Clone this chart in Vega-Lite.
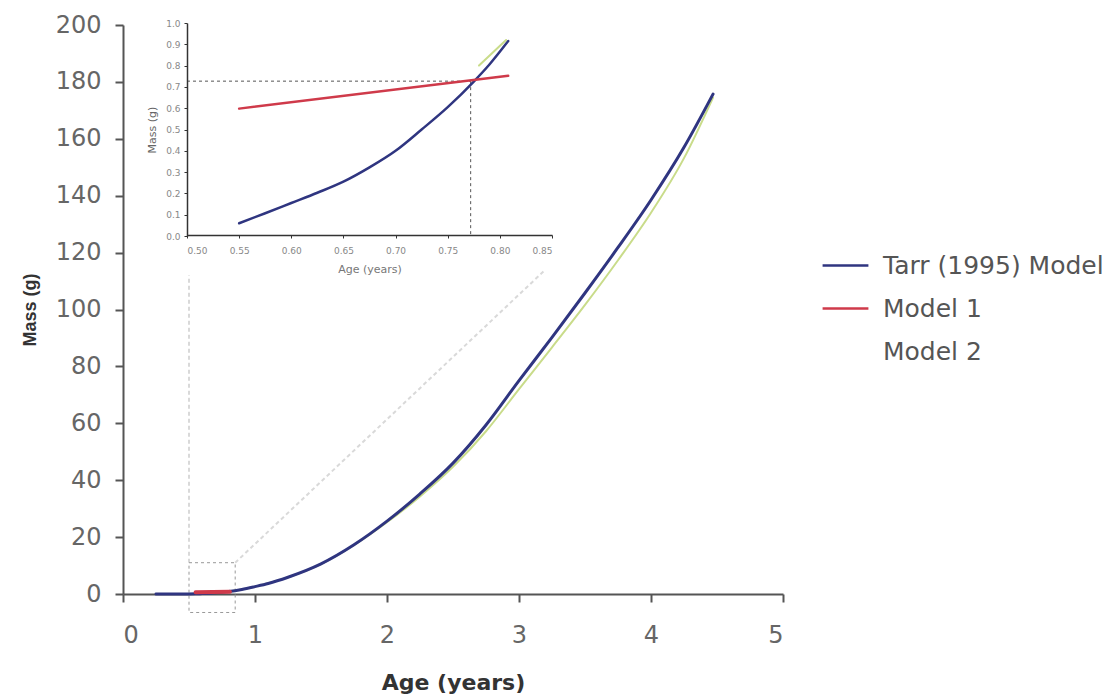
{
  "$schema": "https://vega.github.io/schema/vega-lite/v6.json",
  "width": 660,
  "height": 569,
  "autosize": {"type": "none"},
  "padding": {"left": 123, "top": 25, "right": 337, "bottom": 105},
  "background": "white",
  "config": {"view": {"stroke": null}, "font": "DejaVu Sans"},
  "datasets": {
    "main": [
      {"series": "Tarr (1995) Model", "age": 0.25, "mass": 0.0},
      {"series": "Tarr (1995) Model", "age": 0.4, "mass": 0.005},
      {"series": "Tarr (1995) Model", "age": 0.5, "mass": 0.02},
      {"series": "Tarr (1995) Model", "age": 0.55, "mass": 0.06},
      {"series": "Tarr (1995) Model", "age": 0.6, "mass": 0.155},
      {"series": "Tarr (1995) Model", "age": 0.65, "mass": 0.255},
      {"series": "Tarr (1995) Model", "age": 0.7, "mass": 0.4},
      {"series": "Tarr (1995) Model", "age": 0.75, "mass": 0.605},
      {"series": "Tarr (1995) Model", "age": 0.8, "mass": 0.86},
      {"series": "Tarr (1995) Model", "age": 0.9, "mass": 1.6},
      {"series": "Tarr (1995) Model", "age": 1.0, "mass": 2.6},
      {"series": "Tarr (1995) Model", "age": 1.1, "mass": 3.7},
      {"series": "Tarr (1995) Model", "age": 1.25, "mass": 5.9},
      {"series": "Tarr (1995) Model", "age": 1.5, "mass": 10.6},
      {"series": "Tarr (1995) Model", "age": 1.75, "mass": 17.3},
      {"series": "Tarr (1995) Model", "age": 2.0, "mass": 25.6},
      {"series": "Tarr (1995) Model", "age": 2.25, "mass": 35.2},
      {"series": "Tarr (1995) Model", "age": 2.5, "mass": 46.0},
      {"series": "Tarr (1995) Model", "age": 2.75, "mass": 59.4},
      {"series": "Tarr (1995) Model", "age": 3.0, "mass": 75.0},
      {"series": "Tarr (1995) Model", "age": 3.25, "mass": 90.2},
      {"series": "Tarr (1995) Model", "age": 3.5, "mass": 105.8},
      {"series": "Tarr (1995) Model", "age": 3.75, "mass": 121.8},
      {"series": "Tarr (1995) Model", "age": 4.0, "mass": 138.5},
      {"series": "Tarr (1995) Model", "age": 4.25, "mass": 157.0},
      {"series": "Tarr (1995) Model", "age": 4.47, "mass": 175.7},
      {"series": "Model 1", "age": 0.55, "mass": 0.6},
      {"series": "Model 1", "age": 0.81, "mass": 0.75},
      {"series": "Model 2", "age": 0.78, "mass": 0.75},
      {"series": "Model 2", "age": 0.9, "mass": 1.6},
      {"series": "Model 2", "age": 1.0, "mass": 2.6},
      {"series": "Model 2", "age": 1.5, "mass": 10.5},
      {"series": "Model 2", "age": 2.0, "mass": 25.2},
      {"series": "Model 2", "age": 2.25, "mass": 34.3},
      {"series": "Model 2", "age": 2.5, "mass": 44.7},
      {"series": "Model 2", "age": 2.75, "mass": 57.2},
      {"series": "Model 2", "age": 3.0, "mass": 72.0},
      {"series": "Model 2", "age": 3.25, "mass": 86.7},
      {"series": "Model 2", "age": 3.5, "mass": 101.6},
      {"series": "Model 2", "age": 3.75, "mass": 117.3},
      {"series": "Model 2", "age": 4.0, "mass": 134.0},
      {"series": "Model 2", "age": 4.25, "mass": 153.2},
      {"series": "Model 2", "age": 4.47, "mass": 174.5}
    ],
    "box": [
      {"age": 0.5, "age2": 0.85, "mass": -6.5, "mass2": 11}
    ],
    "connectors": [
      {"age": 0.5, "age2": 0.5, "mass": 11, "mass2": 112},
      {"age": 0.85, "age2": 3.2, "mass": 11, "mass2": 114}
    ],
    "inset": [
      {"series": "Tarr (1995) Model", "age_i": 0.55, "mass_i": 0.06},
      {"series": "Tarr (1995) Model", "age_i": 0.575, "mass_i": 0.107},
      {"series": "Tarr (1995) Model", "age_i": 0.6, "mass_i": 0.155},
      {"series": "Tarr (1995) Model", "age_i": 0.625, "mass_i": 0.203},
      {"series": "Tarr (1995) Model", "age_i": 0.65, "mass_i": 0.255},
      {"series": "Tarr (1995) Model", "age_i": 0.675, "mass_i": 0.322},
      {"series": "Tarr (1995) Model", "age_i": 0.7, "mass_i": 0.4},
      {"series": "Tarr (1995) Model", "age_i": 0.725, "mass_i": 0.5},
      {"series": "Tarr (1995) Model", "age_i": 0.75, "mass_i": 0.605},
      {"series": "Tarr (1995) Model", "age_i": 0.775, "mass_i": 0.725},
      {"series": "Tarr (1995) Model", "age_i": 0.79, "mass_i": 0.805},
      {"series": "Tarr (1995) Model", "age_i": 0.808, "mass_i": 0.915},
      {"series": "Model 1", "age_i": 0.55, "mass_i": 0.598},
      {"series": "Model 1", "age_i": 0.808, "mass_i": 0.752},
      {"series": "Model 2", "age_i": 0.78, "mass_i": 0.8},
      {"series": "Model 2", "age_i": 0.806, "mass_i": 0.92}
    ],
    "inset_guides": [
      {"age_i": 0.5, "age_i2": 0.772, "mass_i": 0.727, "mass_i2": 0.727},
      {"age_i": 0.772, "age_i2": 0.772, "mass_i": 0.727, "mass_i2": 0.0}
    ]
  },
  "layer": [
    {
      "encoding": {
        "x": {
          "field": "age", "type": "quantitative",
          "scale": {"domain": [0, 5], "nice": false, "zero": false},
          "axis": {
            "orient": "bottom", "title": "Age (years)", "values": [0, 1, 2, 3, 4, 5], "grid": false,
            "labelFontSize": 24, "labelColor": "#666", "labelFont": "DejaVu Sans", "labelPadding": 21,
            "domainColor": "#555", "domainWidth": 2, "tickColor": "#555", "tickWidth": 2, "tickSize": 8,
            "titleFont": "DejaVu Sans", "titleFontSize": 22, "titleFontWeight": "bold", "titleColor": "#333", "titlePadding": 25
          }
        },
        "y": {
          "field": "mass", "type": "quantitative",
          "scale": {"domain": [0, 200], "nice": false, "zero": false},
          "axis": {
            "orient": "left", "title": "Mass (g)", "values": [0, 20, 40, 60, 80, 100, 120, 140, 160, 180, 200], "grid": false,
            "labelFontSize": 24, "labelColor": "#666", "labelFont": "DejaVu Sans", "labelPadding": 14,
            "domainColor": "#555", "domainWidth": 2, "tickColor": "#555", "tickWidth": 2, "tickSize": 8,
            "titleFont": "Liberation Sans", "titleFontSize": 18, "titleFontWeight": "bold", "titleColor": "#333", "titlePadding": 16
          }
        }
      },
      "layer": [
        {
          "data": {"name": "connectors"},
          "mark": {"type": "rule", "color": "#d9d9d9", "strokeWidth": 2, "strokeDash": [4, 3]},
          "encoding": {"x2": {"field": "age2"}, "y2": {"field": "mass2"}}
        },
        {
          "data": {"name": "box"},
          "mark": {"type": "rect", "fill": null, "stroke": "#999", "strokeWidth": 1, "strokeDash": [3, 3]},
          "encoding": {"x2": {"field": "age2"}, "y2": {"field": "mass2"}}
        },
        {
          "data": {"name": "main"},
          "transform": [{"filter": "datum.series === 'Model 2'"}],
          "mark": {"type": "line", "strokeWidth": 2, "strokeCap": "round", "interpolate": "monotone"},
          "encoding": {
            "color": {
              "field": "series", "type": "nominal",
              "scale": {"domain": ["Tarr (1995) Model", "Model 1", "Model 2"], "range": ["#2f3580", "#cf3a4a", "#c9dc8a"]},
              "legend": {
                "orient": "none", "legendX": 698, "legendY": 216, "title": null,
                "symbolType": "stroke", "symbolSize": 2100, "symbolStrokeWidth": 2.5,
                "labelFontSize": 25, "labelColor": "#555", "labelFont": "DejaVu Sans", "labelOffset": 13, "labelLimit": 400,
                "rowPadding": 5, "padding": 0,
                "encode": {"symbols": {"update": {"opacity": {"signal": "datum.value === 'Model 2' ? 0 : 1"}}}}
              }
            }
          }
        },
        {
          "data": {"name": "main"},
          "transform": [{"filter": "datum.series === 'Tarr (1995) Model'"}],
          "mark": {"type": "line", "strokeWidth": 3, "strokeCap": "round", "interpolate": "monotone"},
          "encoding": {"color": {"field": "series", "type": "nominal"}}
        },
        {
          "data": {"name": "main"},
          "transform": [{"filter": "datum.series === 'Model 1'"}],
          "mark": {"type": "line", "strokeWidth": 4, "strokeCap": "round"},
          "encoding": {"color": {"field": "series", "type": "nominal"}}
        }
      ]
    },
    {
      "encoding": {
        "x": {
          "field": "age_i", "type": "quantitative",
          "scale": {"domain": [0.5, 0.85], "range": [64, 429], "nice": false, "zero": false},
          "axis": {
            "orient": "bottom", "offset": -359, "zindex": 1, "title": "Age (years)", "grid": false,
            "values": [0.5, 0.55, 0.6, 0.65, 0.7, 0.75, 0.8, 0.85], "format": ".2f",
            "labelFontSize": 9, "labelColor": "#888", "labelPadding": 8,
            "domainColor": "#333", "domainWidth": 1.5, "tickColor": "#333", "tickSize": 3,
            "titleFontSize": 11, "titleFontWeight": "normal", "titleColor": "#777", "titlePadding": 8
          }
        },
        "y": {
          "field": "mass_i", "type": "quantitative",
          "scale": {"domain": [0, 1], "range": [211, -2], "nice": false, "zero": false},
          "axis": {
            "orient": "left", "offset": -64, "zindex": 1, "title": "Mass (g)", "grid": false,
            "values": [0, 0.1, 0.2, 0.3, 0.4, 0.5, 0.6, 0.7, 0.8, 0.9, 1.0], "format": ".1f",
            "labelFontSize": 9, "labelColor": "#888", "labelPadding": 4,
            "domainColor": "#333", "domainWidth": 1.5, "tickColor": "#333", "tickSize": 3,
            "titleFontSize": 11, "titleFontWeight": "normal", "titleColor": "#666", "titlePadding": 8
          }
        }
      },
      "layer": [
        {
          "data": {"values": [{}]},
          "mark": {"type": "rect", "fill": "white", "stroke": null},
          "encoding": {
            "x": {"datum": 0.435, "type": "quantitative"},
            "x2": {"datum": 0.858},
            "y": {"datum": -0.2, "type": "quantitative"},
            "y2": {"datum": 0.9}
          }
        },
        {
          "data": {"name": "inset_guides"},
          "mark": {"type": "rule", "color": "#555", "strokeWidth": 1, "strokeDash": [3, 3]},
          "encoding": {"x2": {"field": "age_i2"}, "y2": {"field": "mass_i2"}}
        },
        {
          "data": {"name": "inset"},
          "transform": [{"filter": "datum.series === 'Tarr (1995) Model'"}],
          "mark": {"type": "line", "strokeWidth": 2.5, "strokeCap": "round", "interpolate": "monotone"},
          "encoding": {"color": {"field": "series", "type": "nominal"}}
        },
        {
          "data": {"name": "inset"},
          "transform": [{"filter": "datum.series === 'Model 2'"}],
          "mark": {"type": "line", "strokeWidth": 2, "strokeCap": "round"},
          "encoding": {"color": {"field": "series", "type": "nominal"}}
        },
        {
          "data": {"name": "inset"},
          "transform": [{"filter": "datum.series === 'Model 1'"}],
          "mark": {"type": "line", "strokeWidth": 2.5, "strokeCap": "round"},
          "encoding": {"color": {"field": "series", "type": "nominal"}}
        }
      ]
    }
  ],
  "resolve": {"scale": {"x": "independent", "y": "independent"}}
}
